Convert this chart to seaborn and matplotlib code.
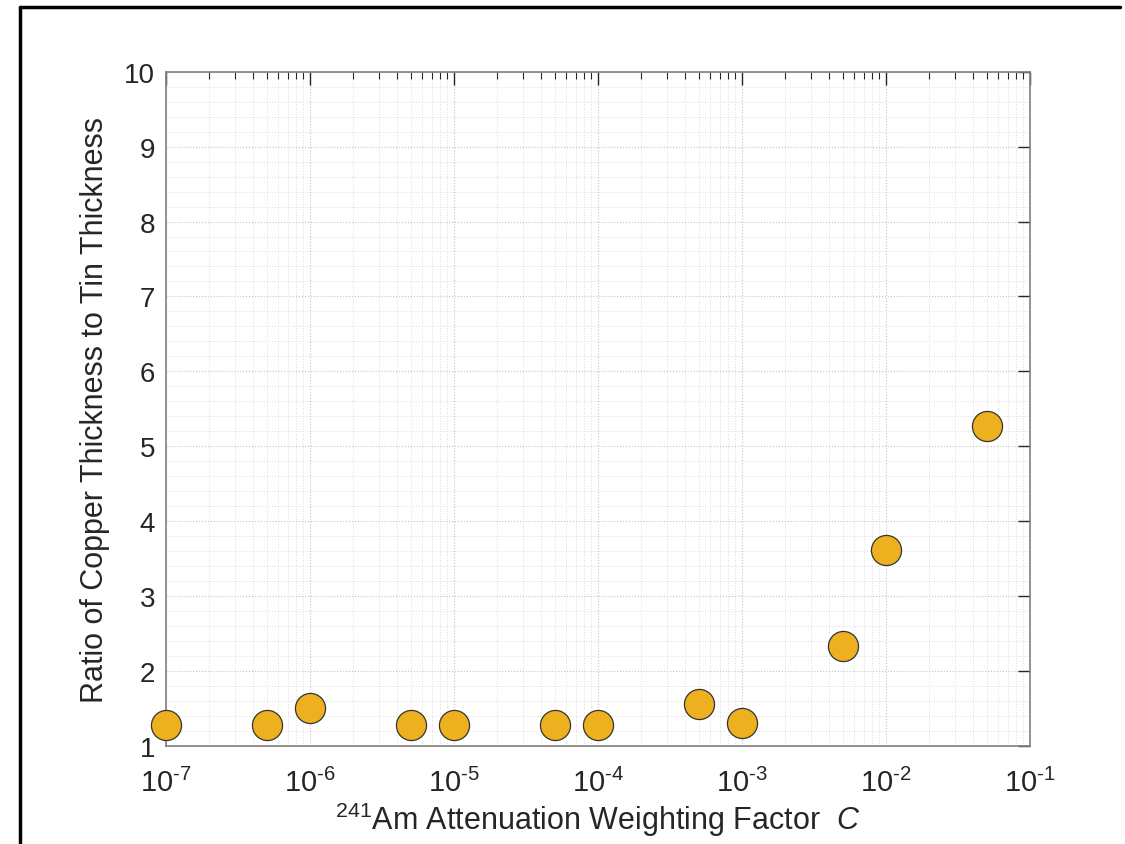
import numpy as np
import pandas as pd
import matplotlib
matplotlib.use("Agg")
import matplotlib.pyplot as plt
import matplotlib.ticker as mticker
from matplotlib.lines import Line2D
import seaborn as sns

# dados
weighting_factor = [1e-7, 5e-7, 1e-6, 5e-6, 1e-5, 5e-5, 1e-4, 5e-4, 1e-3, 5e-3, 1e-2, 5e-2]
thickness_ratio = [1.28, 1.28, 1.51, 1.28, 1.28, 1.28, 1.28, 1.56, 1.31, 2.34, 3.62, 5.27]

x_ticks = [1e-7, 1e-6, 1e-5, 1e-4, 1e-3, 1e-2, 1e-1]
y_ticks = [1, 2, 3, 4, 5, 6, 7, 8, 9, 10]

sns.set_style("white")
plt.rcParams["font.family"] = ["Liberation Sans", "DejaVu Sans"]
plt.rcParams["mathtext.fontset"] = "custom"
plt.rcParams["mathtext.rm"] = "Liberation Sans"
plt.rcParams["mathtext.it"] = "Liberation Sans:italic"
plt.rcParams["mathtext.bf"] = "Liberation Sans:bold"
plt.rcParams["axes.unicode_minus"] = False


def _fmt_pow10(val, pos):
    # expoente com hífen curto, como no MATLAB
    e = int(round(np.log10(val)))
    return r"$10^{\text{%s}}$" % str(e)


df = pd.DataFrame({"C": weighting_factor, "ratio": thickness_ratio})

fig = plt.figure(figsize=(11.25, 8.45), dpi=100)
ax = fig.add_axes([0.1476, 0.116, 0.768, 0.798])

sns.scatterplot(data=df, x="C", y="ratio", s=470, color="#EDB120",
                edgecolor="#333333", linewidth=0.9, zorder=3, ax=ax, clip_on=False)

ax.set_xscale("log")
ax.set_xlim(1e-7, 1e-1)
ax.set_ylim(1, 10)
ax.set_xticks(x_ticks)
ax.set_yticks(y_ticks)
ax.xaxis.set_major_formatter(mticker.FuncFormatter(_fmt_pow10))
ax.xaxis.set_minor_locator(mticker.LogLocator(base=10, subs=np.arange(2, 10), numticks=20))
ax.yaxis.set_minor_locator(mticker.MultipleLocator(0.2))

# grade pontilhada estilo MATLAB
ax.grid(True, which="major", linestyle=":", color="#c4c4c4", linewidth=0.8)
ax.grid(True, which="minor", linestyle=":", color="#dedede", linewidth=0.7)
ax.set_axisbelow(True)

ax.tick_params(axis="both", which="major", direction="in", length=9, width=1,
               color="#262626", labelcolor="#262626", labelsize=20,
               top=True, right=True)
ax.tick_params(axis="x", which="major", pad=16, labelsize=21)
ax.tick_params(axis="y", which="major", pad=8)
ax.tick_params(axis="x", which="minor", direction="in", length=5, width=0.8,
               color="#262626", top=True)
ax.tick_params(axis="y", which="minor", length=0)

for spine in ax.spines.values():
    spine.set_color("#7f7f7f")
    spine.set_linewidth(1.2)

ax.set_xlabel(r"$^{241}$Am Attenuation Weighting Factor  $\it{C}$",
              fontsize=22, color="#262626", labelpad=2)
ax.set_ylabel("Ratio of Copper Thickness to Tin Thickness",
              fontsize=22, color="#262626", labelpad=10)

# moldura preta da figura
fig.add_artist(Line2D([20 / 1125, 20 / 1125], [0, 1 - 8 / 845],
                      transform=fig.transFigure, color="black", linewidth=2.5))
fig.add_artist(Line2D([20 / 1125, 1120 / 1125], [1 - 8 / 845, 1 - 8 / 845],
                      transform=fig.transFigure, color="black", linewidth=2.5))

fig.savefig("out.png", dpi=100)
plt.close()
